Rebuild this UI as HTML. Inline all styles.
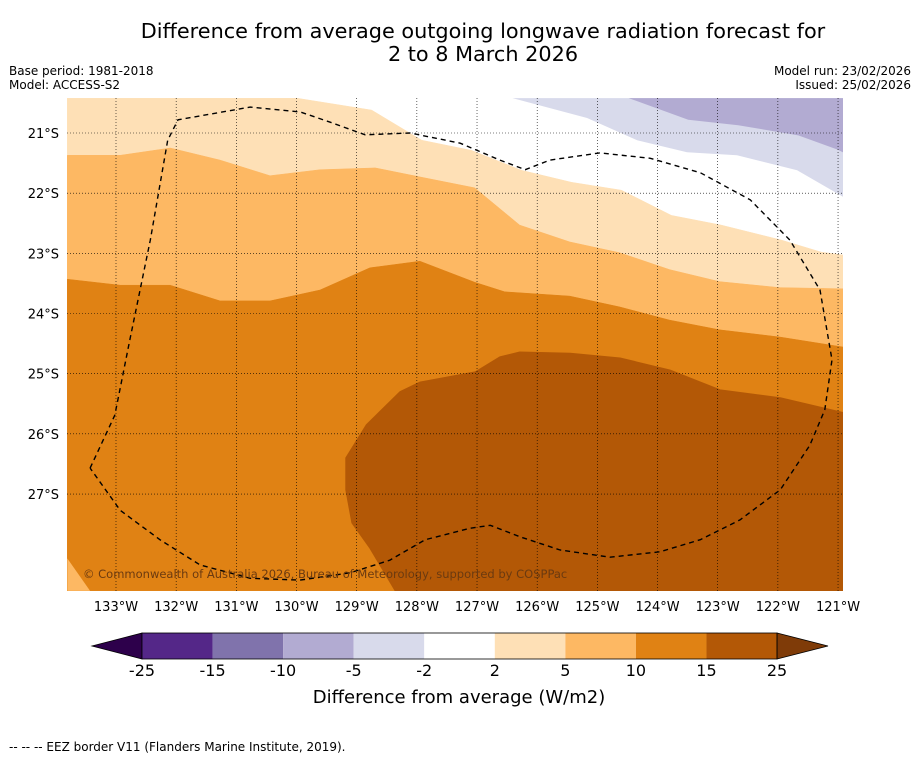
<!DOCTYPE html>
<html><head><meta charset="utf-8"><style>
body{margin:0;background:#fff;width:919px;height:758px;overflow:hidden;font-family:"DejaVu Sans","Liberation Sans",sans-serif;}
svg{position:absolute;left:0;top:0;font-family:"DejaVu Sans","Liberation Sans",sans-serif;}
</style></head><body>
<svg id="c" width="919" height="758"></svg>
<script>
// Map extent (degrees; longitude in °W, latitude in °S)
const lonTicks=[133,132,131,130,129,128,127,126,125,124,123,122,121];
const latTicks=[21,22,23,24,25,26,27];
const cbLabels=["-25","-15","-10","-5","-2","2","5","10","15","25"];
const cbColors=["#542788","#8073ac","#b2abd2","#d8daeb","#ffffff","#fee0b6","#fdb863","#e08214","#b35806"];
// Contour boundaries as [lonW, latS] points
const c2=[[130.00,20.42],[128.75,20.62],[127.92,21.12],[127.09,21.29],[126.26,21.62],[125.43,21.82],[124.60,21.95],[123.77,22.37],[122.94,22.53],[121.94,22.78],[121.28,22.98],[120.90,23.03]];
const c5=[[133.81,21.37],[132.93,21.37],[132.10,21.25],[131.27,21.45],[130.44,21.71],[129.61,21.61],[128.69,21.58],[127.95,21.73],[127.04,21.91],[126.29,22.53],[125.46,22.81],[124.63,22.99],[123.80,23.27],[122.97,23.47],[121.97,23.57],[120.90,23.59]];
const c10=[[133.81,23.43],[132.93,23.53],[132.10,23.53],[131.27,23.79],[130.44,23.79],[129.61,23.61],[128.78,23.24],[127.95,23.13],[127.04,23.48],[126.54,23.64],[125.46,23.71],[124.63,23.89],[123.80,24.11],[122.97,24.27],[121.97,24.39],[120.90,24.56]];
const c15=[[129.18,26.40],[128.84,25.85],[128.28,25.30],[127.95,25.14],[127.03,24.97],[126.62,24.72],[126.29,24.64],[125.45,24.66],[124.62,24.74],[123.79,24.94],[122.96,25.27],[121.96,25.40],[120.90,25.65],[120.90,28.61],[128.36,28.61],[128.78,27.90],[129.08,27.48],[129.18,26.93]];
const cm2=[[126.41,20.42],[125.17,20.75],[124.34,21.12],[123.51,21.32],[122.68,21.37],[121.68,21.62],[120.90,22.07]];
const cm5=[[124.48,20.42],[123.49,20.78],[122.66,20.87],[121.66,21.04],[121.00,21.28],[120.90,21.33]];
const cCorner=[[133.81,28.07],[133.43,28.61],[133.81,28.61]];
const eez=[[133.43,26.57],[133.02,25.69],[132.77,24.44],[132.43,22.78],[132.14,21.12],[131.97,20.78],[130.77,20.57],[129.94,20.65],[129.44,20.82],[128.86,21.03],[128.11,21.00],[127.28,21.17],[126.62,21.45],[126.20,21.61],[125.79,21.45],[124.96,21.33],[124.12,21.42],[123.29,21.66],[122.46,22.11],[121.80,22.78],[121.30,23.61],[121.10,24.77],[121.22,25.60],[121.47,26.19],[121.96,26.93],[122.63,27.43],[123.29,27.76],[123.96,27.96],[124.79,28.05],[125.62,27.93],[126.29,27.71],[126.78,27.52],[127.12,27.57],[127.86,27.76],[128.45,28.10],[129.11,28.31],[129.94,28.43],[130.77,28.40],[131.60,28.18],[132.27,27.76],[132.93,27.27],[133.43,26.57]];
const X0=67,X1=843,Y0=98,Y1=591;
const px=l=>116+(133-l)*60.17, py=t=>133+(t-21)*60.17;
const NS="http://www.w3.org/2000/svg",svg=document.getElementById('c');
function mk(t,a,p){const e=document.createElementNS(NS,t);for(const k in a)e.setAttribute(k,a[k]);(p||svg).appendChild(e);return e;}
const pts=a=>a.map(p=>px(p[0]).toFixed(1)+","+py(p[1]).toFixed(1)).join(" ");
function txt(x,y,s,sz,anc,p){const e=mk('text',{x:x,y:y,'font-size':sz,'text-anchor':anc||'start',fill:'#000'},p);e.textContent=s;return e;}
// titles
let t=txt(483,38,"Difference from average outgoing longwave radiation forecast for",20.8,"middle");
t=txt(483,61,"2 to 8 March 2026",20.8,"middle");
t=txt(9,75,"Base period: 1981-2018",12);
t=txt(9,89,"Model: ACCESS-S2",12);
t=txt(911,75,"Model run: 23/02/2026",12,"end");
t=txt(911,89,"Issued: 25/02/2026",12,"end");
// map
const g=mk('g',{});
mk('defs',{}).innerHTML='<clipPath id="cl"><rect x="67" y="98" width="776" height="493"/></clipPath>';
g.setAttribute('clip-path','url(#cl)');
mk('rect',{x:X0,y:Y0,width:X1-X0,height:Y1-Y0,fill:'#fff'},g);
function band(line,col,name,topLeft){
  const p=(topLeft?[[133.81,20.42]]:[]).concat(line).concat([[120.90,28.61],[133.81,28.61]]);
  const e=mk('polygon',{points:pts(p),fill:col,stroke:col,'stroke-width':0.5},g);
  }
band(c2,cbColors[5],'band-2-to-5',true);
band(c5,cbColors[6],'band-5-to-10',false);
band(c10,cbColors[7],'band-10-to-15',false);
let e=mk('polygon',{points:pts(c15),fill:cbColors[8],stroke:cbColors[8]},g);
e=mk('polygon',{points:pts(cCorner),fill:cbColors[6]},g);
e=mk('polygon',{points:pts(cm2.concat([[120.90,20.42]])),fill:cbColors[3]},g);
e=mk('polygon',{points:pts(cm5.concat([[120.90,20.42]])),fill:cbColors[2]},g);
// grid
lonTicks.forEach(l=>{const x=px(l);e=mk('line',{x1:x,x2:x,y1:Y0,y2:Y1,stroke:'#000','stroke-width':0.6,'stroke-dasharray':'1,2'},g);
 const tt=txt(x,611,l+"°W",13,"middle");});
latTicks.forEach(l=>{const y=py(l);e=mk('line',{x1:X0,x2:X1,y1:y,y2:y,stroke:'#000','stroke-width':0.6,'stroke-dasharray':'1,2'},g);
 const tt=txt(59,y+5,l+"°S",13,"end");});
e=mk('polyline',{points:pts(eez),fill:'none',stroke:'#000','stroke-width':1.4,'stroke-dasharray':'5,4'},g);
t=txt(83,578,"© Commonwealth of Australia 2026, Bureau of Meteorology, supported by COSPPac",11.5,"start",g);t.setAttribute('fill','#6b3a10');
// colorbar
const cb=mk('g',{});
const cx0=142,cw=70.56,cy=633,ch=26;
e=mk('polygon',{points:`${cx0},${cy} ${cx0},${cy+ch} 92,${cy+ch/2}`,fill:'#2d004b',stroke:'#000','stroke-width':0.8},cb);
cbColors.forEach((c,i)=>{e=mk('rect',{x:cx0+i*cw,y:cy,width:cw,height:ch,fill:c},cb);});
const cx1=cx0+9*cw;
e=mk('polygon',{points:`${cx1},${cy} ${cx1},${cy+ch} 828,${cy+ch/2}`,fill:'#7f3b08',stroke:'#000','stroke-width':0.8},cb);
mk('rect',{x:cx0,y:cy,width:9*cw,height:ch,fill:'none',stroke:'#000','stroke-width':0.8},cb);
cbLabels.forEach((s,i)=>{const tt=txt(cx0+i*cw,676,s,16,"middle",cb);});
t=txt(459,703,"Difference from average (W/m2)",18,"middle");
t=txt(9,751,"--  --  -- EEZ border V11 (Flanders Marine Institute, 2019).",12);
</script>
</body></html>
